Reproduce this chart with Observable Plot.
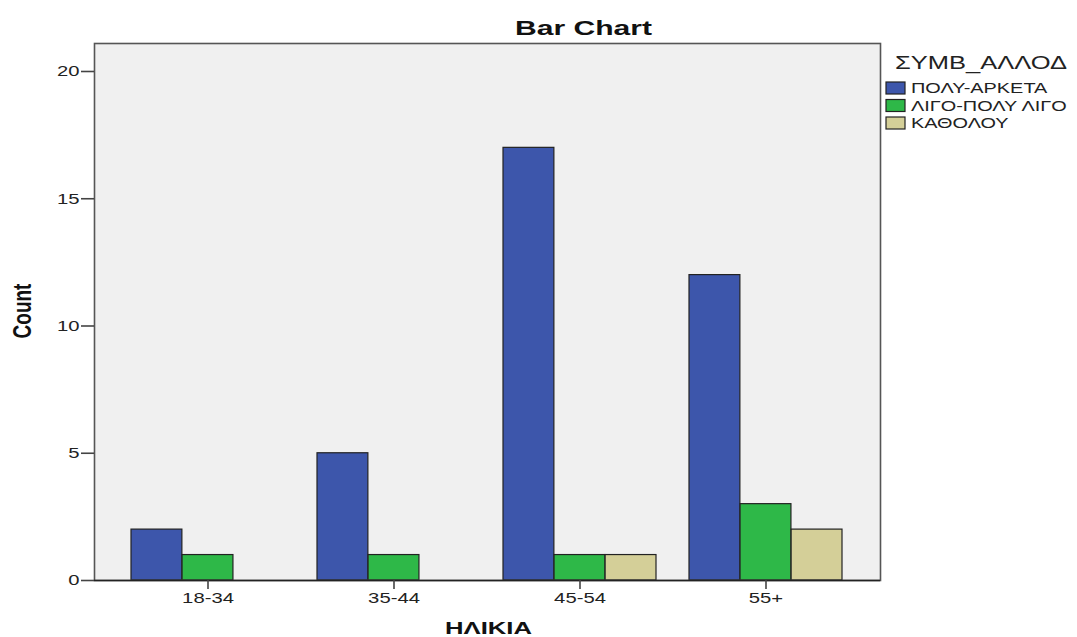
<!DOCTYPE html>
<html><head><meta charset="utf-8">
<script src="https://cdn.jsdelivr.net/npm/d3@7"></script>
<script src="https://cdn.jsdelivr.net/npm/@observablehq/plot@0.6"></script>
<style>body{margin:0;background:#fff} svg{display:block}</style>
</head><body><div id="chart"></div>
<script>
const categories = ["18-34", "35-44", "45-54", "55+"];
const seriesNames = ["ΠΟΛΥ-ΑΡΚΕΤΑ", "ΛΙΓΟ-ΠΟΛΥ ΛΙΓΟ", "ΚΑΘΟΛΟΥ"];
const polyArketa = [2, 5, 17, 12];
const ligoPolyLigo = [1, 1, 1, 3];
const katholou = [0, 0, 1, 2];
const yTicks = [0, 5, 10, 15, 20];
const colors = ["#3D56AB", "#2EB848", "#D4CF98"];
const chartTitle = "Bar Chart";
const xTitle = "ΗΛΙΚΙΑ";
const yTitle = "Count";
const legendTitle = "ΣΥΜΒ_ΑΛΛΟΔ";

const seriesValues = [polyArketa, ligoPolyLigo, katholou];
const data = seriesNames.flatMap((s, i) =>
  categories.map((c, j) => ({category: c, series: s, si: i, value: seriesValues[i][j]}))
).filter(d => d.value > 0);

const W = 1077, H = 637, mL = 94, mR = 197, mT = 43, mB = 57;
const padIn = 0.177, padOut = 0.2;
const step = (W - mL - mR) / (categories.length - padIn + 2 * padOut);
const bw = step * (1 - padIn);
const third = bw / 3;
const font = "Liberation Sans, Arial, sans-serif";

const barMarks = seriesNames.map((s, i) =>
  Plot.barY(data.filter(d => d.si === i), {
    x: "category", y: "value", fill: colors[i], stroke: "#222", strokeWidth: 1.2,
    insetLeft: third * i, insetRight: third * (2 - i)
  })
);

const plot = Plot.plot({
  width: W, height: H,
  marginLeft: mL, marginRight: mR, marginTop: mT, marginBottom: mB,
  style: {fontFamily: font, fontSize: "15px", color: "#222", background: "white"},
  x: {domain: categories, paddingInner: padIn, paddingOuter: padOut, label: null},
  y: {domain: [0, 21.1], label: null},
  marks: [
    Plot.frame({fill: "#F0F0F0"}),
    ...barMarks,
    Plot.frame({stroke: "#555", strokeWidth: 1.6}),
    Plot.ruleY([0], {stroke: "#222", strokeWidth: 1.4}),
    Plot.axisY({ticks: yTicks, tickSize: 13, tickPadding: 2, strokeWidth: 1.6, stroke: "#444", fontSize: 15, label: null, className: "ytick"}),
    Plot.axisX({tickSize: 9, tickPadding: 3, strokeWidth: 1.6, stroke: "#444", fontSize: 15, label: null, className: "xtick"}),
    Plot.text([chartTitle], {text: d => d, frameAnchor: "top", dx: 96, dy: -23, fontSize: 21, fontWeight: "bold", fill: "#111", className: "ttl"}),
    Plot.text([xTitle], {text: d => d, frameAnchor: "bottom", dx: 1, dy: 53, fontSize: 17, fontWeight: "bold", fill: "#111", className: "xttl"})
  ]
});
document.getElementById("chart").appendChild(plot);

const svg = d3.select(plot);
function stretch(sel, factor, target) {
  sel.each(function() {
    const len = this.getComputedTextLength();
    const t = target != null ? target : len * factor;
    if (len > 0) d3.select(this).attr("textLength", t).attr("lengthAdjust", "spacingAndGlyphs");
  });
}
stretch(svg.selectAll(".ytick text, .xtick text"), 1.35);
stretch(svg.selectAll(".ttl text"), null, 137);
stretch(svg.selectAll(".xttl text"), null, 87);

// Y title (rotated)
svg.append("text")
  .attr("transform", "translate(22,311) scale(1.35,1) rotate(-90)")
  .attr("text-anchor", "middle").attr("dominant-baseline", "central")
  .attr("font-family", font).attr("font-weight", "bold").attr("font-size", 19)
  .attr("fill", "#111")
  .text(yTitle);

// Legend
const lg = svg.append("g").attr("font-family", font).attr("fill", "#222").attr("text-anchor", "start");
lg.append("text").attr("x", 895).attr("y", 63).attr("dominant-baseline", "central")
  .attr("text-anchor", "start").attr("font-size", 18).text(legendTitle)
  .call(s => stretch(s, null, 172));
seriesNames.forEach((s, i) => {
  const cy = 88 + i * 17.5;
  lg.append("rect").attr("x", 886).attr("y", cy - 6).attr("width", 19).attr("height", 12)
    .attr("fill", colors[i]).attr("stroke", "#222").attr("stroke-width", 1.2);
  const t = lg.append("text").attr("x", 911).attr("y", cy).attr("dominant-baseline", "central")
    .attr("text-anchor", "start").attr("font-size", 14).text(s);
  stretch(t, 1.42);
});
</script>
</body></html>
